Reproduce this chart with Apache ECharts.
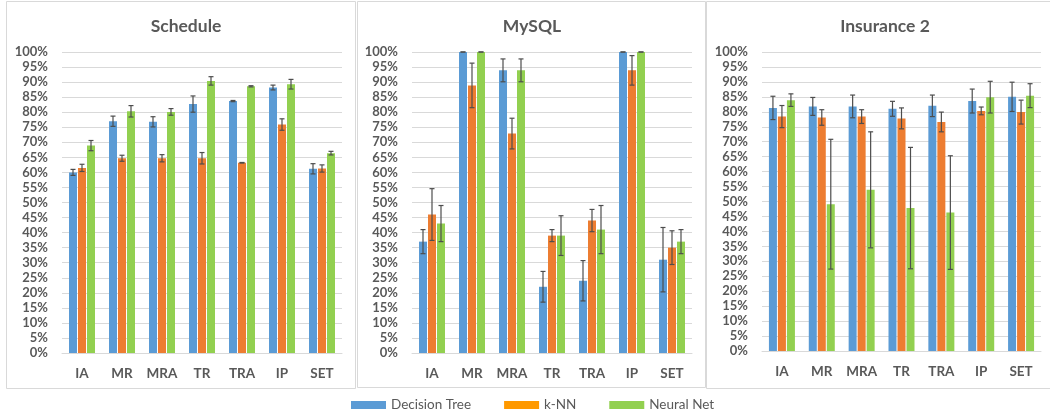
<!DOCTYPE html>
<html>
<head>
<meta charset="utf-8">
<script src="https://cdn.jsdelivr.net/npm/echarts@6/dist/echarts.min.js"></script>
<style>html,body{margin:0;padding:0;background:#fff}#c{width:1050px;height:413px}</style>
</head>
<body>
<div id="c"></div>
<script>
// ---- data ----
const categories = ['IA', 'MR', 'MRA', 'TR', 'TRA', 'IP', 'SET'];
const seriesNames = ['Decision Tree', 'k-NN', 'Neural Net'];
const panelTitles = ['Schedule', 'MySQL', 'Insurance 2'];

const scheduleDT = [60, 77, 76.8, 82.7, 83.7, 88.2, 61.2];
const scheduleDTErr = [1, 1.7, 1.7, 2.7, 0.2, 0.8, 1.7];
const scheduleKNN = [61.5, 64.7, 64.7, 64.7, 63.2, 75.9, 61.3];
const scheduleKNNErr = [1.2, 1, 1.2, 1.9, 0.1, 1.9, 1.2];
const scheduleNN = [68.9, 80.3, 80.1, 90.4, 88.6, 89.3, 66.4];
const scheduleNNErr = [1.7, 1.9, 1.1, 1.4, 0.2, 1.6, 0.6];

const mysqlDT = [37, 100, 93.9, 22, 24, 100, 31];
const mysqlDTErr = [4, 0, 3.8, 5.1, 6.7, 0, 10.7];
const mysqlKNN = [46, 88.9, 72.9, 39, 44, 93.9, 35];
const mysqlKNNErr = [8.6, 7.4, 5.1, 2, 3.7, 4.9, 5.6];
const mysqlNN = [43, 100, 93.9, 39, 41, 100, 37];
const mysqlNNErr = [6, 0, 3.8, 6.6, 8, 0, 4];

const insuranceDT = [81.3, 81.8, 81.8, 81, 82, 83.6, 85];
const insuranceDTErr = [3.9, 3, 3.8, 2.5, 3.6, 4, 4.9];
const insuranceKNN = [78.4, 78.1, 78.4, 77.8, 76.6, 80.3, 79.9];
const insuranceKNNErr = [3.7, 2.6, 2.3, 3.5, 3.3, 1.3, 4];
const insuranceNN = [83.9, 49.1, 53.9, 47.8, 46.3, 84.9, 85.4];
const insuranceNNErr = [2.1, 21.7, 19.4, 20.3, 19, 5.3, 4];

const yTicks = {min: 0, max: 100, interval: 5};

// ---- styling ----
const barColors = ['#5B9BD5', '#ED7D31', '#92D050'];
const legendColors = ['#5B9BD5', '#FF9900', '#92D050'];
const textColor = '#595959';
const fontFam = 'Lato, "Liberation Sans", sans-serif';

const panels = [
  {vals: [scheduleDT, scheduleKNN, scheduleNN], errs: [scheduleDTErr, scheduleKNNErr, scheduleNNErr],
   grid: {left: 62, right: 708, top: 52, bottom: 60}, titleX: 181},
  {vals: [mysqlDT, mysqlKNN, mysqlNN], errs: [mysqlDTErr, mysqlKNNErr, mysqlNNErr],
   grid: {left: 412, right: 358, top: 52, bottom: 60}, titleX: 527},
  {vals: [insuranceDT, insuranceKNN, insuranceNN], errs: [insuranceDTErr, insuranceKNNErr, insuranceNNErr],
   grid: {left: 762, right: 9, top: 52, bottom: 62}, titleX: 880}
];

const barW = 8, barStep = 9;
const grids = [], xAxes = [], yAxes = [], series = [], titles = [];

panels.forEach((p, gi) => {
  grids.push(p.grid);
  titles.push({text: panelTitles[gi], left: p.titleX, top: 12, textAlign: 'center',
    textStyle: {fontFamily: fontFam, fontSize: 17.5, fontWeight: 'bold', color: textColor}});
  xAxes.push({type: 'category', gridIndex: gi, data: categories,
    axisLine: {lineStyle: {color: '#d9d9d9'}}, axisTick: {show: false},
    axisLabel: {interval: 0, color: textColor, fontFamily: fontFam, fontSize: 13.5, fontWeight: 'bold', margin: 14}});
  yAxes.push({type: 'value', gridIndex: gi, min: yTicks.min, max: yTicks.max, interval: yTicks.interval,
    axisLine: {show: false}, axisTick: {show: false},
    splitLine: {lineStyle: {color: '#d9d9d9'}},
    axisLabel: {formatter: '{value}%', color: textColor, fontFamily: fontFam, fontSize: 13, fontWeight: 'bold', margin: 14}});
  for (let s = 0; s < 3; s++) {
    series.push({type: 'bar', name: seriesNames[s], xAxisIndex: gi, yAxisIndex: gi,
      data: p.vals[s], barWidth: barW, barGap: '12.5%', barCategoryGap: '30%',
      itemStyle: {color: barColors[s]}, z: 2});
  }
  for (let s = 0; s < 3; s++) {
    const off = (s - 1) * barStep;
    series.push({type: 'custom', name: 'err' + gi + s, xAxisIndex: gi, yAxisIndex: gi, z: 5,
      data: p.vals[s].map((v, i) => [i, v, p.errs[s][i]]),
      renderItem: function (params, api) {
        const i = api.value(0), v = api.value(1), e = api.value(2);
        const top = api.coord([i, v + e]);
        const bot = api.coord([i, v - e]);
        const x = top[0] + off;
        const st = {stroke: '#4d4d4d', lineWidth: 1.2};
        return {type: 'group', children: [
          {type: 'line', shape: {x1: x, y1: top[1], x2: x, y2: bot[1]}, style: st},
          {type: 'line', shape: {x1: x - 2.5, y1: top[1], x2: x + 2.5, y2: top[1]}, style: st},
          {type: 'line', shape: {x1: x - 2.5, y1: bot[1], x2: x + 2.5, y2: bot[1]}, style: st}
        ]};
      }});
  }
});

const chart = echarts.init(document.getElementById('c'), null, {renderer: 'canvas'});
chart.setOption({
  animation: false,
  backgroundColor: '#fff',
  title: titles,
  grid: grids,
  xAxis: xAxes,
  yAxis: yAxes,
  legend: {
    data: seriesNames.map((n, i) => ({name: n, itemStyle: {color: legendColors[i]}})),
    left: 346, top: 393, itemWidth: 35, itemHeight: 8, itemGap: 33, icon: 'rect',
    textStyle: {fontFamily: fontFam, fontSize: 13.5, color: textColor}, selectedMode: false
  },
  graphic: [
    {type: 'rect', shape: {x: 6.5, y: 1.5, width: 349, height: 387}, style: {fill: null, stroke: '#d9d9d9', lineWidth: 1}},
    {type: 'rect', shape: {x: 357.5, y: 1.5, width: 348, height: 386}, style: {fill: null, stroke: '#d9d9d9', lineWidth: 1}},
    {type: 'rect', shape: {x: 706.5, y: 1.5, width: 350, height: 387}, style: {fill: null, stroke: '#d9d9d9', lineWidth: 1}}
  ],
  series: series
});
</script>
</body>
</html>
